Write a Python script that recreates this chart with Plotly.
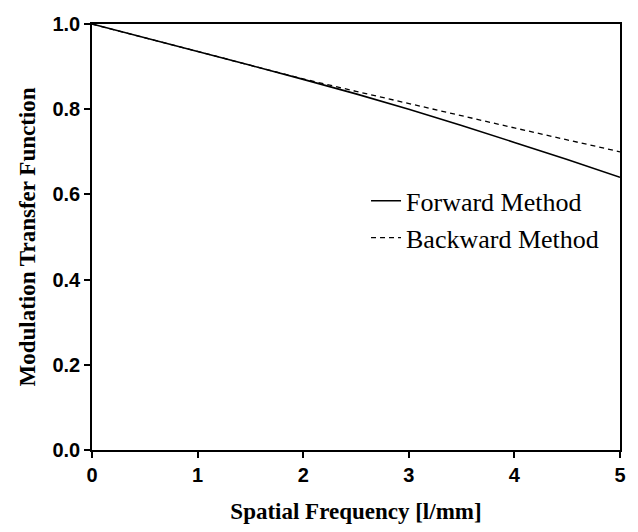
import plotly.graph_objects as go

freq = [0, 0.5, 1, 1.5, 2, 2.5, 3, 3.5, 4, 4.5, 5]
forward = [1.0, 0.968, 0.936, 0.903, 0.870, 0.836, 0.800, 0.762, 0.722, 0.682, 0.640]
backward = [1.0, 0.968, 0.936, 0.903, 0.871, 0.842, 0.813, 0.784, 0.756, 0.728, 0.700]

fig = go.Figure()
fig.add_trace(go.Scatter(x=freq, y=forward, mode="lines", name="Forward Method",
                         line=dict(color="black", width=1.6)))
fig.add_trace(go.Scatter(x=freq, y=backward, mode="lines", name="Backward Method",
                         line=dict(color="black", width=1.3, dash="5px,4px")))

axis_common = dict(showline=True, linecolor="black", linewidth=1.5, mirror=True,
                   ticks="outside", ticklen=6, tickwidth=1.5, tickcolor="black",
                   showgrid=False, zeroline=False,
                   tickfont=dict(family="Liberation Sans", size=20, color="black", weight="bold"))

fig.update_xaxes(range=[0, 5], tickvals=[0, 1, 2, 3, 4, 5],
                 title=dict(text="Spatial Frequency [l/mm]", standoff=18,
                            font=dict(family="Liberation Serif", size=23, color="black", weight="bold")),
                 **axis_common)
fig.update_yaxes(range=[0, 1.0], tickvals=[0, 0.2, 0.4, 0.6, 0.8, 1.0], tickformat=".1f",
                 title=dict(text="Modulation Transfer Function", standoff=10,
                            font=dict(family="Liberation Serif", size=23, color="black", weight="bold")),
                 **axis_common)

fig.update_layout(width=638, height=532, margin=dict(l=92, r=16, t=24, b=80),
                  plot_bgcolor="white", paper_bgcolor="white",
                  legend=dict(x=0.519, y=0.64, xanchor="left", yanchor="top",
                              bgcolor="rgba(0,0,0,0)", tracegroupgap=0,
                              font=dict(family="Liberation Serif", size=26, color="black")),
                  showlegend=True)

fig.write_html("out.html")
